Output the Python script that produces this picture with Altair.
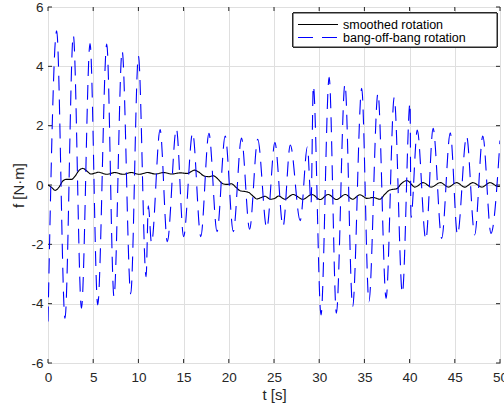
import altair as alt
import pandas as pd

series_names = ["smoothed rotation", "bang-off-bang rotation"]

smooth_t = [0, 0.4, 0.8, 1.2, 1.6, 2.0, 2.6, 3.0, 3.4, 3.85, 4.3, 4.75, 5.6, 6.5, 7.4, 8.3,
            9.2, 10.1, 11.0, 11.9, 12.8, 13.7, 14.6, 15.4, 16.2, 16.6, 17.3, 17.8, 18.3,
            18.8, 19.3, 19.8, 20.3, 20.8, 21.3, 21.8, 22.2, 22.7, 23.1, 23.6, 24.0, 24.6,
            25.1, 25.5, 26.2, 27.1, 28.2, 29.2, 30.1, 31.0, 31.9, 32.9, 33.7, 34.5, 35.3,
            36.0, 36.7, 37.3, 37.8, 38.6, 39.1, 39.7, 40.6, 41.5, 42.4, 43.4, 44.3, 45.2,
            46.1, 47.0, 48.0, 48.9, 49.8, 50.0]
smooth_f = [0, -0.08, -0.18, -0.08, 0.12, 0.19, 0.19, 0.3, 0.48, 0.56, 0.47, 0.37, 0.43,
            0.36, 0.42, 0.36, 0.42, 0.36, 0.42, 0.37, 0.42, 0.37, 0.41, 0.39, 0.5, 0.45,
            0.3, 0.28, 0.31, 0.2, 0.05, 0.02, 0.04, -0.08, -0.2, -0.22, -0.25, -0.38,
            -0.47, -0.42, -0.38, -0.48, -0.45, -0.37, -0.48, -0.32, -0.48, -0.32, -0.49,
            -0.32, -0.49, -0.32, -0.48, -0.33, -0.45, -0.42, -0.48, -0.3, -0.17, -0.12,
            0.05, 0.15, -0.07, 0.08, -0.07, 0.08, -0.07, 0.08, -0.07, 0.08, -0.07, 0.08,
            -0.05, -0.04]

bang_t = [0, 0.96, 1.88, 2.8, 3.7, 4.65, 5.5, 6.5, 7.3, 8.2, 9.15, 10.0, 10.85, 11.1,
          11.45, 12.4, 13.2, 14.2, 15.0, 16.0, 16.9, 17.8, 18.7, 19.6, 20.5, 21.4, 22.3,
          23.2, 24.2, 25.1, 26.0, 26.8, 27.9, 28.7, 29.1, 29.35, 30.2, 31.1, 31.9, 32.85,
          33.7, 34.7, 35.5, 36.5, 37.4, 38.3, 39.2, 40.05, 40.15, 40.85, 41.8, 42.6, 43.55,
          44.5, 45.3, 46.3, 47.2, 48.1, 49.0, 50.0]
bang_f = [-4.6, 5.2, -4.5, 5.05, -4.15, 4.77, -4.04, 4.75, -3.77, 4.52, -3.67, 4.35,
          -3.09, -0.7, -1.96, 1.87, -1.91, 1.9, -1.74, 1.76, -1.74, 1.74, -1.57, 1.65,
          -1.57, 1.58, -1.49, 1.54, -1.46, 1.43, -1.4, 1.35, -1.2, 1.29, -0.6, 3.35,
          -4.38, 3.63, -4.32, 3.4, -4.1, 3.26, -3.93, 3.09, -3.82, 2.95, -3.65, 2.77,
          -1.1, 1.85, -1.85, 1.91, -1.8, 1.76, -1.68, 1.65, -1.68, 1.65, -1.63, 1.5]

x_ticks = [0, 5, 10, 15, 20, 25, 30, 35, 40, 45, 50]
y_ticks = [-6, -4, -2, 0, 2, 4, 6]

W, H = 452, 356
FONT = "Liberation Sans"
AX = "#262626"

rows = []
for t, f in zip(smooth_t, smooth_f):
    rows.append({"t": t, "f": f, "series": series_names[0]})
for t, f in zip(bang_t, bang_f):
    rows.append({"t": t, "f": f, "series": series_names[1]})
df = pd.DataFrame(rows)

xscale = alt.Scale(domain=[0, 50], nice=False, zero=False)
yscale = alt.Scale(domain=[-6, 6], nice=False, zero=False)

lines = alt.Chart(df).mark_line(interpolate="monotone", strokeWidth=1.1, clip=True).encode(
    x=alt.X("t:Q", scale=xscale,
            axis=alt.Axis(values=x_ticks, title="t [s]", ticks=False, domain=False,
                          labelFlush=False, labelPadding=7, titlePadding=4,
                          labelExpr="'' + datum.value")),
    y=alt.Y("f:Q", scale=yscale,
            axis=alt.Axis(values=y_ticks, title="f [N·m]", ticks=False, domain=False,
                          labelFlush=False, labelPadding=5, titleX=-30, titleY=H / 2,
                          titleBaseline="middle", titleAngle=270,
                          labelExpr="'' + datum.value")),
    color=alt.Color("series:N", scale=alt.Scale(domain=series_names, range=["#000000", "#0000ff"]),
                    legend=alt.Legend(title=None)),
    strokeDash=alt.StrokeDash("series:N", scale=alt.Scale(domain=series_names, range=[[1, 0], [15, 9]]),
                              legend=alt.Legend(title=None)),
)

ydf = pd.DataFrame({"f": y_ticks})
xdf = pd.DataFrame({"t": x_ticks})

yt_left = alt.Chart(ydf).mark_rule(color=AX, strokeWidth=1).encode(
    y=alt.Y("f:Q", scale=yscale), x=alt.value(0), x2=alt.value(4))
yt_right = alt.Chart(ydf).mark_rule(color=AX, strokeWidth=1).encode(
    y=alt.Y("f:Q", scale=yscale), x=alt.value(W - 4), x2=alt.value(W))
xt_bottom = alt.Chart(xdf).mark_rule(color=AX, strokeWidth=1).encode(
    x=alt.X("t:Q", scale=xscale), y=alt.value(H - 4), y2=alt.value(H))
xt_top = alt.Chart(xdf).mark_rule(color=AX, strokeWidth=1).encode(
    x=alt.X("t:Q", scale=xscale), y=alt.value(0), y2=alt.value(4))

legend_box = alt.Chart(ydf).mark_rect(fill="white", stroke=AX, strokeWidth=1).encode(
    x=alt.value(245), x2=alt.value(449), y=alt.value(6), y2=alt.value(40))

chart = alt.layer(yt_left, yt_right, xt_bottom, xt_top, lines, legend_box).properties(
    width=W, height=H,
    autosize=alt.AutoSizeParams(type="none"),
    padding={"left": 48, "top": 7, "right": 4, "bottom": 47},
).configure_view(
    stroke=AX, strokeWidth=1
).configure_axis(
    labelFont=FONT, labelFontSize=13.5, labelColor=AX,
    titleFont=FONT, titleFontSize=15, titleFontWeight="normal", titleColor=AX,
    gridColor="#dfdfdf", gridWidth=1, grid=True,
).configure_legend(
    orient="none", legendX=249, legendY=11,
    symbolType="stroke", symbolSize=1600, symbolStrokeWidth=1.1,
    labelFont=FONT, labelFontSize=12.5, labelColor="#000000", labelOffset=4,
    clipHeight=13, rowPadding=0, padding=0,
)

chart.save("out.html", embed_options={"renderer": "svg", "actions": False})
